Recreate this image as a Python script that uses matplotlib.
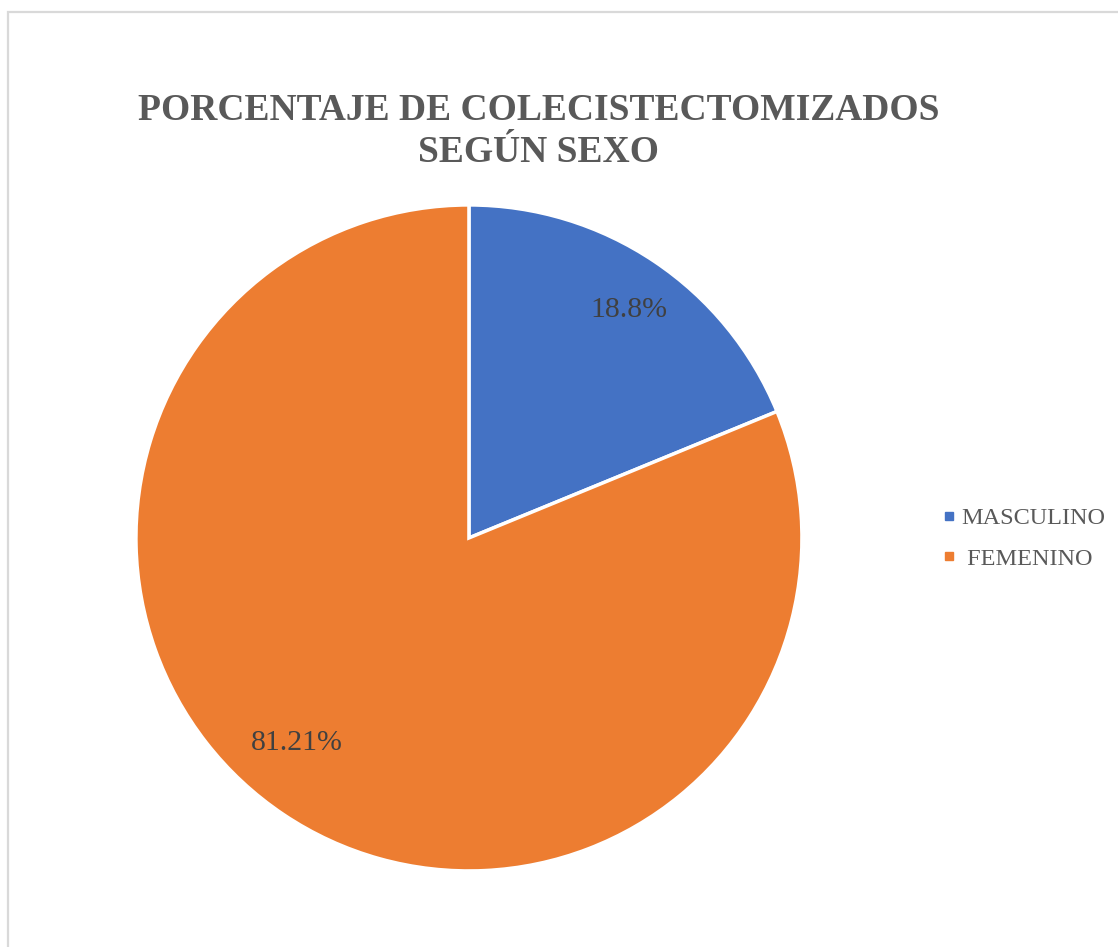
import matplotlib
matplotlib.use("Agg")
import matplotlib.pyplot as plt
from matplotlib.patches import Rectangle
from matplotlib.lines import Line2D
import numpy as np

# porcentaje de pacientes colecistectomizados por sexo
sexos = ["MASCULINO", " FEMENINO"]
porcentajes = [18.8, 81.21]
etiquetas = ["18.8%", "81.21%"]
colores = ["#4472C4", "#ED7D31"]

plt.rcParams["font.family"] = ["Liberation Serif", "DejaVu Serif"]

fig = plt.figure(figsize=(11.18, 9.47), dpi=100)
fig.patch.set_facecolor("white")

# marco gris del área del gráfico
fig.patches.append(Rectangle((8 / 1118, -0.05), 1.2, (947 - 12) / 947 + 0.05,
                             transform=fig.transFigure, fill=False,
                             edgecolor="#d9d9d9", linewidth=1.6))

ax = fig.add_axes([0.1216, 0.0803, 0.5957, 0.7033])
wedges, _ = ax.pie(porcentajes, colors=colores, startangle=90, counterclock=False,
                   wedgeprops=dict(edgecolor="white", linewidth=2.5))
ax.set_aspect("equal")
ax.set_xlim(-1, 1); ax.set_ylim(-1, 1)

# etiquetas de datos (ángulo en grados, distancia relativa al radio)
pos_etq = [(55, 0.835), (230, 0.805)]
for txt, (ang, r) in zip(etiquetas, pos_etq):
    a = np.deg2rad(ang)
    ax.text(r * np.cos(a), r * np.sin(a), txt, ha="center", va="center",
            fontsize=21.5, color="#404040")

fig.text(0.4817, 0.8611, "PORCENTAJE DE COLECISTECTOMIZADOS\nSEGÚN SEXO",
         ha="center", va="center", fontsize=27, fontweight="bold",
         color="#595959", linespacing=1.29)

# leyenda con marcadores cuadrados pequeños
marcas = [Line2D([], [], marker="s", linestyle="", markersize=5.2,
                 markerfacecolor=c, markeredgecolor=c) for c in colores]
leg = fig.legend(marcas, sexos, loc="center left", bbox_to_anchor=(0.8426, 0.4313),
                 frameon=False, fontsize=17.5, handlelength=0.6,
                 handletextpad=0.18, labelspacing=0.75, borderpad=0, borderaxespad=0)
for t in leg.get_texts():
    t.set_color("#595959")

fig.savefig("out.png", dpi=100)
